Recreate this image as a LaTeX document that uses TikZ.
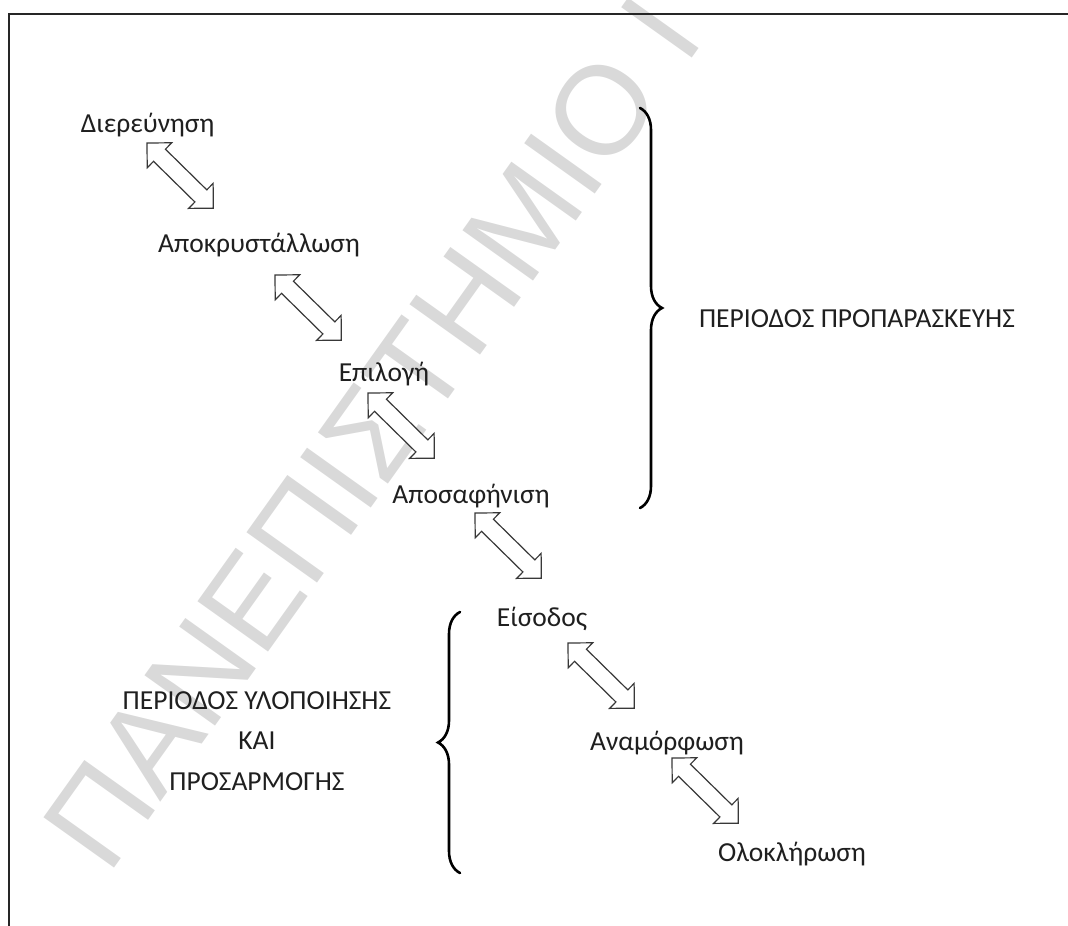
\documentclass[tikz,border=0pt]{standalone}
\usepackage{fontspec}
\setmainfont{Carlito}
\newfontfamily\wmfont{Liberation Sans}
\usetikzlibrary{decorations.pathreplacing}
\begin{document}
\begin{tikzpicture}[x=1pt,y=-1pt,
  lbl/.style={inner sep=0pt, anchor=base, text=black!88, font=\fontsize{27.5}{40.5}\selectfont},
  wm/.style={inner sep=0pt, anchor=base west, text=black!15, font=\wmfont\fontsize{126}{126}\selectfont},
  arrowline/.style={draw=black!78, line width=1.2pt, fill=white, line join=miter},
  bracestyle/.style={line width=2.6pt, line cap=round, decorate, decoration={brace, amplitude=22pt}},
  dbl/.pic={\path[arrowline] (0,0) -- (17.5,17.5) -- (17.5,8.5) -- (75.5,8.5) -- (75.5,17.5) -- (93,0) -- (75.5,-17.5) -- (75.5,-8.5) -- (17.5,-8.5) -- (17.5,-17.5) -- cycle;}
]
\useasboundingbox (0,0) rectangle (1068,926);
\clip (0,0) rectangle (1068,926);
% watermark
\node[wm, rotate=54.5] (wm) at (108,877) {ΠΑΝΕΠΙΣΤΗΜΙΟ Ι};
% frame
\draw[line width=2pt, black!85] (8.5,926) -- (8.5,13.5) -- (1068,13.5);
% stage labels
\node[lbl] (s1) at (147.5,132) {Διερεύνηση};
\node[lbl] (s2) at (259,252) {Αποκρυστάλλωση};
\node[lbl] (s3) at (384,381) {Επιλογή};
\node[lbl] (s4) at (471,503) {Αποσαφήνιση};
\node[lbl] (s5) at (542,626) {Είσοδος};
\node[lbl] (s6) at (667,750) {Αναμόρφωση};
\node[lbl] (s7) at (792,861) {Ολοκλήρωση};
% double arrows
\coordinate (a1) at (147,143);
\coordinate (a2) at (275,275);
\coordinate (a3) at (368,393);
\coordinate (a4) at (475,513);
\coordinate (a5) at (568,643);
\coordinate (a6) at (672,758);
\foreach \a in {a1,a2,a3,a4,a5,a6} { \pic[rotate=-44.5] at (\a) {dbl}; }
% braces
\coordinate (b1t) at (640,108);
\coordinate (b1b) at (640,508);
\coordinate (b2t) at (460,612);
\coordinate (b2b) at (460,873);
\draw[bracestyle] (b1t) -- (b1b);
\draw[bracestyle] (b2b) -- (b2t);
% period labels
\node[lbl] (p1) at (857,327) {ΠΕΡΙΟΔΟΣ ΠΡΟΠΑΡΑΣΚΕΥΗΣ};
\node[lbl, align=center, anchor=base] (p2) at (257,790) {ΠΕΡΙΟΔΟΣ ΥΛΟΠΟΙΗΣΗΣ\\ΚΑΙ\\ΠΡΟΣΑΡΜΟΓΗΣ};
\end{tikzpicture}
\end{document}
